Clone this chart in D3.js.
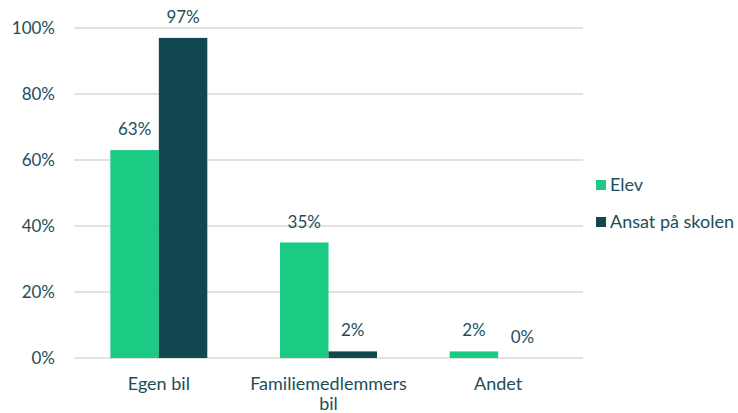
<!DOCTYPE html>
<html>
<head>
<meta charset="utf-8">
<script src="https://cdn.jsdelivr.net/npm/d3@7"></script>
<style>
  body { margin: 0; background: #fff; }
  text { font-family: Lato, "Open Sans", sans-serif; fill: #1e4d5a; }
</style>
</head>
<body>
<svg id="chart"></svg>
<script>
const categories = [["Egen bil"], ["Familiemedlemmers", "bil"], ["Andet"]];
const seriesNames = ["Elev", "Ansat på skolen"];
const elevValues = [0.63, 0.35, 0.02];
const ansatValues = [0.97, 0.02, 0.0];
const yTicks = [0, 0.2, 0.4, 0.6, 0.8, 1.0];
const colors = ["#1bcb84", "#11474f"];

const WIDTH = 738, HEIGHT = 413;
const PADDING = { LEFT: 74, RIGHT: 155, TOP: 28, BOTTOM: 55 };

let svg = d3.select("#chart").attr("width", WIDTH).attr("height", HEIGHT);

let xScale = d3.scaleBand()
  .domain(d3.range(categories.length))
  .range([PADDING.LEFT, WIDTH - PADDING.RIGHT]);
let yScale = d3.scaleLinear()
  .domain([0, 1])
  .range([HEIGHT - PADDING.BOTTOM, PADDING.TOP]);

const barW = xScale.bandwidth() * 0.2857;

// gridlines
svg.append("g")
  .selectAll("line")
  .data(yTicks)
  .enter()
  .append("line")
    .attr("x1", PADDING.LEFT)
    .attr("x2", WIDTH - PADDING.RIGHT)
    .attr("y1", d => yScale(d))
    .attr("y2", d => yScale(d))
    .attr("stroke", "#d9d9d9")
    .attr("stroke-width", 1.5);

// y axis labels
svg.append("g")
  .selectAll("text")
  .data(yTicks)
  .enter()
  .append("text")
    .attr("x", 55)
    .attr("y", d => yScale(d) + 6)
    .attr("text-anchor", "end")
    .style("font-size", "17px")
    .text(d => d3.format(".0%")(d));

// bars
const series = [elevValues, ansatValues];
series.forEach(function(values, s) {
  let g = svg.append("g");
  let x = i => xScale(i) + xScale.bandwidth() / 2 - barW + s * barW;
  g.selectAll("rect")
    .data(values)
    .enter()
    .append("rect")
      .attr("x", (d, i) => x(i))
      .attr("y", d => yScale(d))
      .attr("width", barW)
      .attr("height", d => Math.max(yScale(0) - yScale(d), 0))
      .attr("fill", colors[s]);
  g.selectAll("text")
    .data(values)
    .enter()
    .append("text")
      .attr("x", (d, i) => x(i) + barW / 2)
      .attr("y", d => yScale(d) - 15)
      .attr("text-anchor", "middle")
      .style("font-size", "17px")
      .text(d => d3.format(".0%")(d));
});

// category labels
svg.append("g")
  .selectAll("text")
  .data(categories)
  .enter()
  .append("text")
    .attr("x", (d, i) => xScale(i) + xScale.bandwidth() / 2)
    .attr("y", 390)
    .attr("text-anchor", "middle")
    .style("font-size", "18px")
    .each(function(lines) {
      lines.forEach((line, j) => {
        d3.select(this).append("tspan")
          .attr("x", d3.select(this).attr("x"))
          .attr("dy", j === 0 ? 0 : 20)
          .text(line);
      });
    });

// legend
let legend = svg.append("g")
  .selectAll("g")
  .data(seriesNames)
  .enter()
  .append("g")
    .attr("transform", (d, i) => `translate(596, ${185 + i * 37})`);
legend.append("rect")
  .attr("x", 0)
  .attr("y", -5)
  .attr("width", 10)
  .attr("height", 10)
  .attr("fill", (d, i) => colors[i]);
legend.append("text")
  .attr("x", 14)
  .attr("y", 6)
  .style("font-size", "18px")
  .text(d => d);
</script>
</body>
</html>
